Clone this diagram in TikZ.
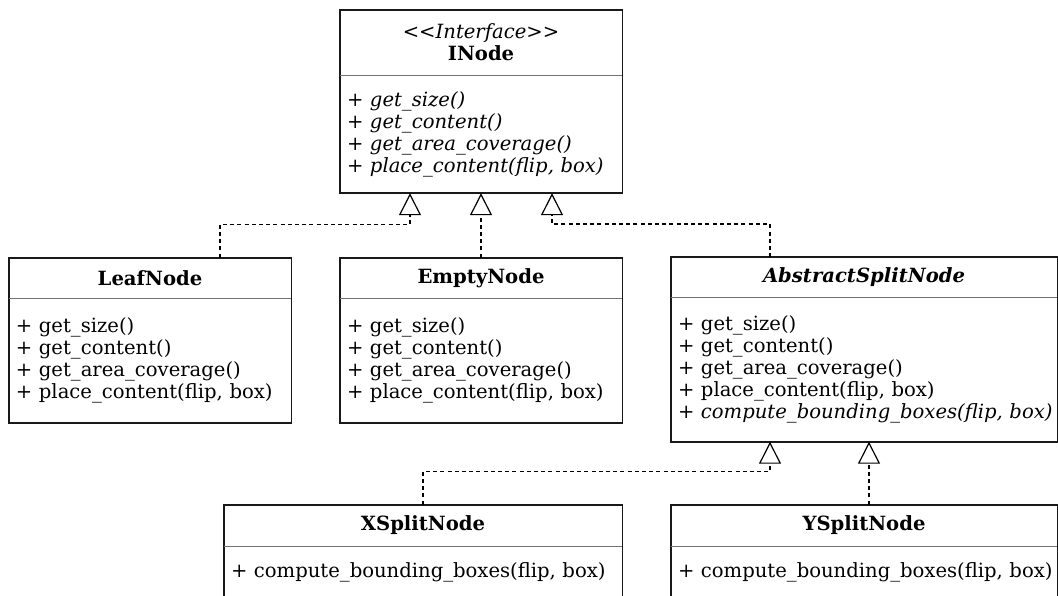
\documentclass[tikz,border=0pt]{standalone}
\usepackage{fontspec}
\setmainfont{DejaVu Serif}
\usetikzlibrary{arrows.meta}

\begin{document}
\begin{tikzpicture}[x=0.5pt,y=-0.5pt,
  every node/.style={font=\fontsize{9.8}{11}\selectfont},
  classname/.style={inner sep=0pt,minimum height=20pt,align=center},
  members/.style={anchor=north,inner xsep=3.5pt,inner ysep=0pt,text width=#1,align=left},
  border/.style={line width=0.9pt,black!90},
  divider/.style={line width=0.5pt,black!55},
  realize/.style={line width=0.65pt,dash pattern=on 2pt off 1.6pt,
    -{Triangle[open,length=11pt,width=11pt,line width=0.6pt]}}]
  \useasboundingbox (0,0) rectangle (1058,595);
  \clip (0,0) rectangle (1058,595);

  % interface
  \node[classname,minimum width=141pt,minimum height=32.5pt] (iface) at (481,42.5)
    {\textit{<\kern0pt<Interface>\kern0pt>}\\\textbf{INode}};
  \node[members=134pt,minimum height=58.5pt] (iface-ops) at (iface.south)
    {+ \textit{get\_size()}\\+ \textit{get\_content()}\\+ \textit{get\_area\_coverage()}\\+ \textit{place\_content(flip, box)}};

  % concrete nodes
  \node[classname,minimum width=141pt] (leaf) at (150,278) {\textbf{LeafNode}};
  \node[members=134pt,minimum height=62pt] (leaf-ops) at (leaf.south)
    {+ get\_size()\\+ get\_content()\\+ get\_area\_coverage()\\+ place\_content(flip, box)};
  \node[classname,minimum width=141pt] (empty) at (481,278) {\textbf{EmptyNode}};
  \node[members=134pt,minimum height=62pt] (empty-ops) at (empty.south)
    {+ get\_size()\\+ get\_content()\\+ get\_area\_coverage()\\+ place\_content(flip, box)};
  \node[classname,minimum width=193pt] (abstract) at (864,277.5) {\textbf{\textit{AbstractSplitNode}}};
  \node[members=186pt,minimum height=71.5pt] (abstract-ops) at (abstract.south)
    {+ get\_size()\\+ get\_content()\\+ get\_area\_coverage()\\+ place\_content(flip, box)\\\mbox{+ \textit{compute\_bounding\_boxes(flip, box)}}};

  % split nodes
  \node[classname,minimum width=199pt,minimum height=20.5pt] (xsplit) at (423,525.5) {\textbf{XSplitNode}};
  \node[members=192pt,minimum height=26pt] (xsplit-ops) at (xsplit.south) {\mbox{+ compute\_bounding\_boxes(flip, box)}};
  \node[classname,minimum width=193pt,minimum height=20.5pt] (ysplit) at (864,525.5) {\textbf{YSplitNode}};
  \node[members=186pt,minimum height=26pt] (ysplit-ops) at (ysplit.south) {\mbox{+ compute\_bounding\_boxes(flip, box)}};

  \foreach \c in {iface,leaf,empty,abstract,xsplit,ysplit}{
    \draw[border] (\c.north west) rectangle (\c-ops.south east);
    \draw[divider] (\c.south west) -- (\c.south east);
  }

  % realizations
  \draw[realize] ([xshift=35pt]leaf.north) -- ++(0,-33) -| ([xshift=-35.5pt]iface-ops.south);
  \draw[realize] (empty.north) -- (iface-ops.south);
  \draw[realize] ([xshift=-47pt]abstract.north) -- ++(0,-33) -| ([xshift=35.5pt]iface-ops.south);
  \draw[realize] (xsplit.north) -- ++(0,-33) -| ([xshift=-47pt]abstract-ops.south);
  \draw[realize] ([xshift=2.5pt]ysplit.north) -- ([xshift=2.5pt]abstract-ops.south);
\end{tikzpicture}
\end{document}
